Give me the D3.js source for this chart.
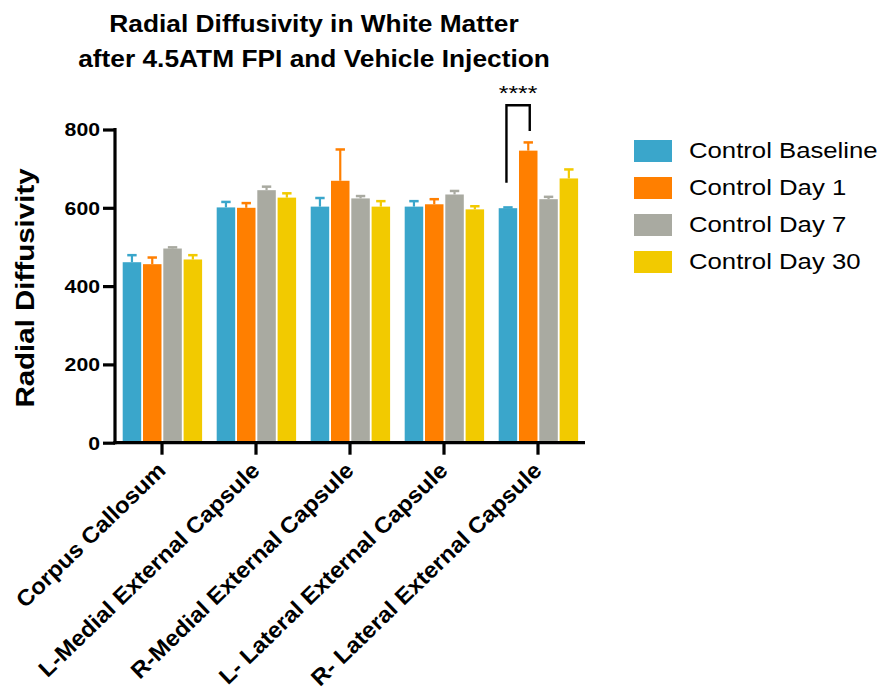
<!DOCTYPE html>
<html>
<head>
<meta charset="utf-8">
<script src="https://cdn.jsdelivr.net/npm/d3@7"></script>
<style>
  html, body { margin: 0; padding: 0; background: #fff; }
  svg { display: block; }
  text { font-family: "Liberation Sans", Arial, sans-serif; fill: #000; }
</style>
</head>
<body>
<svg id="chart" width="881" height="691"></svg>
<script>
// ---- data ----
const categories = ["Corpus Callosum", "L-Medial External Capsule", "R-Medial External Capsule", "L- Lateral External Capsule", "R- Lateral External Capsule"];
const seriesNames = ["Control Baseline", "Control Day 1", "Control Day 7", "Control Day 30"];
const baselineMeans = [461, 601, 603, 603, 599];
const day1Means = [456, 600, 669, 609, 746];
const day7Means = [496, 645, 624, 634, 622];
const day30Means = [468, 626, 603, 596, 675];
const baselineErr = [18, 14, 22, 14, 2];
const day1Err = [17, 12, 80, 13, 21];
const day7Err = [3, 9, 6, 9, 6];
const day30Err = [11, 11, 14, 8, 23];
const yTicks = [0, 200, 400, 600, 800];
const sigCategory = "R- Lateral External Capsule";
const sigPair = ["Control Baseline", "Control Day 1"];
const sigLevels = [862, 664, 796]; // top, left end, right end
const sigLabel = "****";
const titleLines = ["Radial Diffusivity in White Matter", "after 4.5ATM FPI and Vehicle Injection"];
const yTitle = "Radial Diffusivity";

const colors = ["#3AA6CB", "#FF7F00", "#A9AAA1", "#F2CA00"];
const meansBySeries = [baselineMeans, day1Means, day7Means, day30Means];
const errBySeries = [baselineErr, day1Err, day7Err, day30Err];

const rows = [];
categories.forEach((c, i) => {
  seriesNames.forEach((s, j) => {
    rows.push({cat: c, series: s, mean: meansBySeries[j][i], err: errBySeries[j][i], color: colors[j]});
  });
});

const SX = 1.18; // horizontal text stretch
const svg = d3.select("#chart");

const y = d3.scaleLinear().domain([0, 800]).range([442.7, 129.5]);
const x0 = d3.scaleBand().domain(categories).range([115, 585]).padding(0);
const x1 = d3.scaleBand().domain(seriesNames).range([7.7, 87.1]).paddingInner(0.089).paddingOuter(0);

// bars
const bars = svg.append("g");
bars.selectAll("rect").data(rows).join("rect")
  .attr("x", d => x0(d.cat) + x1(d.series))
  .attr("y", d => y(d.mean))
  .attr("width", x1.bandwidth())
  .attr("height", d => y(0) - y(d.mean))
  .attr("fill", d => d.color);

// error bars
const eb = svg.append("g").attr("stroke-width", 2.2);
rows.forEach(d => {
  const cx = x0(d.cat) + x1(d.series) + x1.bandwidth() / 2;
  eb.append("line").attr("x1", cx).attr("x2", cx)
    .attr("y1", y(d.mean)).attr("y2", y(d.mean + d.err)).attr("stroke", d.color);
  eb.append("line").attr("x1", cx - 4.7).attr("x2", cx + 4.7)
    .attr("y1", y(d.mean + d.err)).attr("y2", y(d.mean + d.err)).attr("stroke", d.color).attr("stroke-width", 2.5);
});

// y axis
const yAxis = d3.axisLeft(y).tickValues(yTicks).tickSize(12).tickPadding(3).tickFormat(d3.format("d"));
const gy = svg.append("g").attr("transform", "translate(115,0)").call(yAxis);
gy.select(".domain").attr("stroke-width", 3.2).attr("d", `M0,${y(800) - 1.5}V${y(0) + 1.5}`);
gy.selectAll(".tick line").attr("stroke-width", 3.2);
gy.selectAll(".tick text")
  .attr("font-size", 18).attr("font-weight", "bold")
  .attr("font-family", "Liberation Sans, Arial, sans-serif")
  .attr("dy", "0.36em")
  .attr("transform", function() { const xx = +d3.select(this).attr("x"); return `translate(${xx},0) scale(${SX},1) translate(${-xx},0)`; });

// x axis
const xAxis = d3.axisBottom(x0).tickSize(12).tickFormat("");
const gx = svg.append("g").attr("transform", `translate(0,${y(0)})`).call(xAxis);
gx.select(".domain").attr("stroke-width", 3.2).attr("d", `M113.4,0H585`);
gx.selectAll(".tick line").attr("stroke-width", 3.2);

// x labels
svg.append("g").selectAll("text").data(categories).join("text")
  .attr("transform", d => `translate(${x0(d) + x0.bandwidth() / 2 + 5},472) rotate(-44) scale(1.06,1)`)
  .attr("text-anchor", "end")
  .attr("font-size", 22.5).attr("font-weight", "bold")
  .text(d => d);

// y title
svg.append("text")
  .attr("transform", `translate(34,288) rotate(-90) scale(${SX},1)`)
  .attr("text-anchor", "middle")
  .attr("font-size", 25).attr("font-weight", "bold")
  .text(yTitle);

// title
svg.append("g").selectAll("text").data(titleLines).join("text")
  .attr("transform", (d, i) => `translate(314,${32 + i * 35}) scale(1.12,1)`)
  .attr("text-anchor", "middle")
  .attr("font-size", 23.5).attr("font-weight", "bold")
  .text(d => d);

// significance bracket
const bxL = x0(sigCategory) + x1(sigPair[0]) + x1.bandwidth() / 2 - 1.5;
const bxR = x0(sigCategory) + x1(sigPair[1]) + x1.bandwidth() / 2 + 1.5;
svg.append("path")
  .attr("d", `M${bxL},${y(sigLevels[1])}V${y(sigLevels[0])}H${bxR}V${y(sigLevels[2])}`)
  .attr("fill", "none").attr("stroke", "#000").attr("stroke-width", 2.4);
svg.append("text")
  .attr("transform", `translate(${(bxL + bxR) / 2},100) scale(${SX},1)`)
  .attr("text-anchor", "middle").attr("font-size", 21)
  .text(sigLabel);

// legend
const lg = svg.append("g");
seriesNames.forEach((s, i) => {
  lg.append("rect").attr("x", 634).attr("y", 140 + i * 37).attr("width", 38).attr("height", 22).attr("fill", colors[i]);
  lg.append("text").attr("transform", `translate(689,${158.3 + i * 37}) scale(${SX},1)`)
    .attr("font-size", 21.8).text(s);
});
</script>
</body>
</html>
